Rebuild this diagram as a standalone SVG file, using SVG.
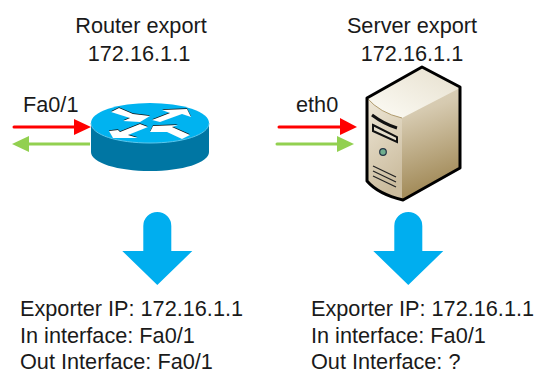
<svg xmlns="http://www.w3.org/2000/svg" width="535" height="371" viewBox="0 0 535 371">
<defs>
<linearGradient id="front" x1="0" y1="0" x2="0.3" y2="1"><stop offset="0" stop-color="#efe8d8"/><stop offset="1" stop-color="#cbbc9e"/></linearGradient>
<linearGradient id="side" x1="0" y1="0" x2="0.25" y2="1"><stop offset="0" stop-color="#e9e2d0"/><stop offset="0.45" stop-color="#d6cab0"/><stop offset="1" stop-color="#a48d5c"/></linearGradient>
<linearGradient id="top" x1="0" y1="1" x2="1" y2="0"><stop offset="0" stop-color="#fdfcf6"/><stop offset="1" stop-color="#e6dfcd"/></linearGradient>
<path id="down" d="M-14 -34V-59A14 14 0 0 1 14 -59V-34H35L0 0L-35 -34Z" fill="#00aeef"/>
<g id="ra">
<path d="M111 112L119 108L133 114L150 116L140 122L123 121L130 118Z"/>
<path d="M152 120L170 113L162 110L187 109L191 117L182 114L160 122Z"/>
<path d="M109 131L113 138L138 138L128 135L148 127L140 124L120 132L118 130Z"/>
<path d="M150 132L167 132L182 139L190 135L172 127L178 125L153 126Z"/>
</g>
</defs>
<style>
text{font-family:"Liberation Sans",Arial,sans-serif;font-size:21.700px;fill:#1a1a1a}
.m{text-anchor:middle}
</style>
<g id="router-label"><text class="m" x="141" y="33">Router export</text><text class="m" x="139" y="61">172.16.1.1</text></g>
<g id="server-label"><text class="m" x="412" y="33">Server export</text><text class="m" x="412" y="61">172.16.1.1</text></g>
<g id="router">
<path d="M91 123V152C91 163 118 171 150 171C182 171 209 163 209 152V123Z" fill="#0076a3"/>
<ellipse cx="150" cy="123" rx="59" ry="20" fill="#00b3f0"/>
<path d="M91 123C91 135 118 143 150 143C182 143 209 135 209 123" fill="none" stroke="#5cc8ee" stroke-width="1"/>
<use href="#ra" x="0" y="-0.800" fill="#111"/>
<use href="#ra" fill="#fff"/>
</g>
<g id="server">
<path d="M367 98L422 67L460 88V167L403 200L367 181Z" fill="url(#side)"/>
<path d="M367 98Q380 113 402 118V199Q378 194 367 181Z" fill="url(#front)"/>
<path d="M367 98L422 67L460 88L402 118Q380 113 367 98Z" fill="url(#top)"/>
<path d="M367 98Q380 113 402 118" fill="none" stroke="#b09b6e" stroke-width="1"/>
<path d="M422 67L460 87V168L403 200Q378 194 367 181V98Z" fill="none" stroke="#000" stroke-width="3" stroke-linejoin="round"/>
<path d="M372 115Q384 124 397 128" fill="none" stroke="#111" stroke-width="3"/>
<path d="M373 125L397 137V142L373 131Z" fill="#e6dfcd" stroke="#111" stroke-width="2"/>
<circle cx="383" cy="152" r="3.300" fill="#6fae8f" stroke="#234" stroke-width="1.200"/>
<path d="M373 166L396 177M373 171L396 182M373 176L396 187" stroke="#222" stroke-width="1.300" fill="none"/>
</g>
<g id="connectors">
<path d="M14 127H75" stroke="#f00" stroke-width="3" stroke-linecap="round"/><path d="M74 119L91 127L74 135Z" fill="#f00"/>
<path d="M90 144H28" stroke="#92d050" stroke-width="3"/><path d="M29 136L12 144L29 152Z" fill="#92d050"/>
<path d="M279 127H340" stroke="#f00" stroke-width="3" stroke-linecap="round"/><path d="M340 118L357 127L340 135Z" fill="#f00"/>
<path d="M277 144H338" stroke="#92d050" stroke-width="3" stroke-linecap="round"/><path d="M337 136L354 144L337 152Z" fill="#92d050"/>
</g>
<g id="arrow-left"><use href="#down" x="157.300" y="285"/></g>
<g id="arrow-right"><use href="#down" x="408.300" y="285"/></g>
<g id="router-if"><text x="23" y="112">Fa0/1</text></g>
<g id="server-if"><text x="296" y="112">eth0</text></g>
<g id="router-info"><text x="20" y="316">Exporter IP: 172.16.1.1</text><text x="20" y="343">In interface: Fa0/1</text><text x="20" y="369">Out Interface: Fa0/1</text></g>
<g id="server-info"><text x="311" y="316">Exporter IP: 172.16.1.1</text><text x="311" y="343">In interface: Fa0/1</text><text x="311" y="369">Out Interface: ?</text></g>
</svg>
